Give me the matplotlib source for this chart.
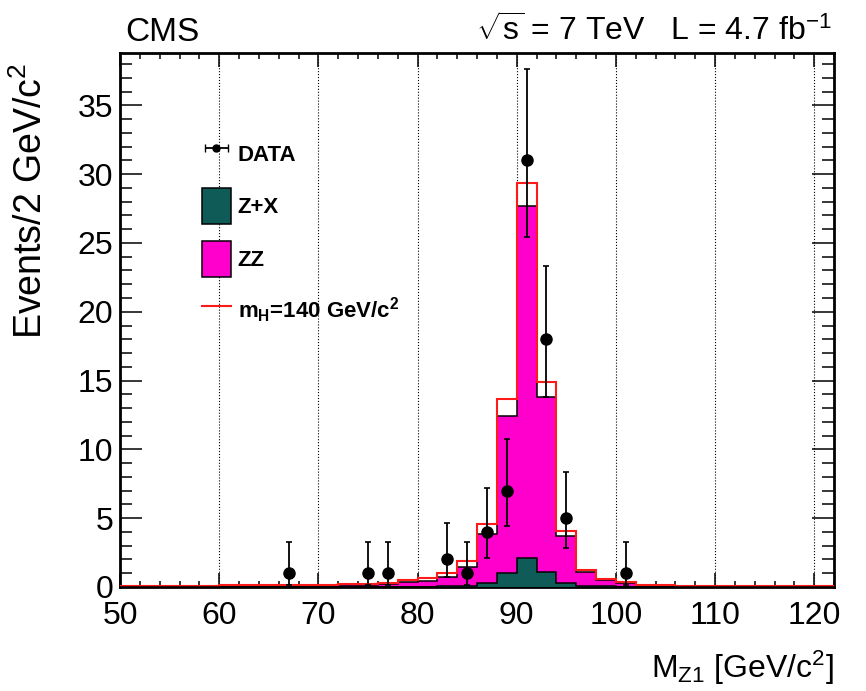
"""CMS H->ZZ->4l: M_Z1 distribution, sqrt(s)=7 TeV, L=4.7 fb^-1."""

import numpy as np
import matplotlib
matplotlib.use("Agg")
import matplotlib.pyplot as plt
import matplotlib.ticker as ticker
from matplotlib.patches import Rectangle
from matplotlib.lines import Line2D

plt.rcParams["font.family"] = ["Liberation Sans", "DejaVu Sans"]
plt.rcParams["mathtext.fontset"] = "custom"
plt.rcParams["mathtext.rm"] = "Liberation Sans"
plt.rcParams["mathtext.bf"] = "Liberation Sans:bold"
plt.rcParams["mathtext.default"] = "regular"

# 2 GeV bins from 50 to 122
bin_edges = np.arange(50, 123, 2)

# Z+X background per bin
zx = [0.01, 0.01, 0.01, 0.01, 0.01, 0.01, 0.01, 0.01, 0.01, 0.01,
      0.01, 0.01, 0.02, 0.02, 0.02, 0.03, 0.05, 0.08, 0.27, 1.00,
      2.13, 1.07, 0.27, 0.08, 0.04, 0.02, 0.01, 0.01, 0.01, 0.01,
      0.01, 0.01, 0.01, 0.01, 0.01, 0.01]

# ZZ background per bin (stacked on Z+X)
zz = [0.04, 0.04, 0.05, 0.05, 0.06, 0.07, 0.07, 0.08, 0.09, 0.10,
      0.12, 0.14, 0.16, 0.22, 0.33, 0.38, 0.65, 1.40, 3.58, 11.39,
      25.53, 12.73, 3.44, 1.03, 0.46, 0.25, 0.14, 0.09, 0.07, 0.06,
      0.05, 0.04, 0.04, 0.03, 0.03, 0.03]

# Higgs signal, m_H = 140 GeV (stacked on top)
h140 = [0.02, 0.02, 0.02, 0.02, 0.03, 0.03, 0.03, 0.03, 0.04, 0.04,
        0.05, 0.05, 0.06, 0.08, 0.15, 0.27, 0.34, 0.41, 0.73, 1.26,
        1.70, 1.06, 0.38, 0.14, 0.06, 0.07, 0.03, 0.02, 0.02, 0.01,
        0.01, 0.01, 0.01, 0.01, 0.01, 0.01]

# observed events (non-empty bins only)
data_x = [67, 75, 77, 83, 85, 87, 89, 91, 93, 95, 101]
data_n = [1, 1, 1, 2, 1, 4, 7, 31, 18, 5, 1]
data_err_lo = [0.83, 0.83, 0.83, 1.29, 0.83, 1.91, 2.58, 5.55, 4.22, 2.16, 0.83]
data_err_hi = [2.30, 2.30, 2.30, 2.64, 2.30, 3.16, 3.77, 6.63, 5.29, 3.38, 2.30]

COLORS = {
    "zx": "#0f5b57",
    "zz": "#ff00cc",
    "sig": "#ff1a1a",
}

fig = plt.figure(figsize=(8.66, 6.91), dpi=100)
ax = fig.add_axes([120 / 866, 1 - 587 / 691, 714 / 866, 534 / 691])

bkg_total = np.array(zx) + np.array(zz)
sig_total = bkg_total + np.array(h140)

ax.stairs(bkg_total, bin_edges, fill=True, facecolor=COLORS["zz"],
          edgecolor="black", linewidth=1.1, zorder=2)
ax.stairs(sig_total, bin_edges, color=COLORS["sig"], linewidth=1.5, zorder=3)
ax.stairs(zx, bin_edges, fill=True, facecolor=COLORS["zx"],
          edgecolor="black", linewidth=1.1, zorder=4)

ax.errorbar(data_x, data_n, yerr=[data_err_lo, data_err_hi], fmt="o",
            color="black", ms=8, elinewidth=1.3, capsize=2, capthick=1.2,
            zorder=5)

ax.set_xlim(50, 122)
ax.set_ylim(0, 38.8)

ax.xaxis.set_major_locator(ticker.MultipleLocator(10))
ax.xaxis.set_minor_locator(ticker.MultipleLocator(2))
ax.yaxis.set_major_locator(ticker.MultipleLocator(5))
ax.yaxis.set_minor_locator(ticker.MultipleLocator(1))

ax.tick_params(axis="both", which="both", direction="in", top=True, right=True,
               width=1.1, labelsize=23)
ax.tick_params(axis="x", which="major", length=10, pad=10)
ax.tick_params(axis="x", which="minor", length=4.5)
ax.tick_params(axis="y", which="major", length=16, pad=5)
ax.tick_params(axis="y", which="minor", length=8.5)
for sp in ax.spines.values():
    sp.set_linewidth(2)

ax.grid(axis="x", which="major", linestyle=":", color="black", linewidth=0.8)
ax.set_axisbelow(True)

ax.set_ylabel("Events/2 GeV/c$^2$", fontsize=27, loc="top")
ax.yaxis.set_label_coords(-0.098, 0.981)
ax.set_xlabel("M$_{Z1}$ [GeV/c$^2$]", fontsize=23, loc="right")
ax.xaxis.set_label_coords(1.0, -0.115)

fig.text(125 / 866, 1 - 41 / 691, "CMS", fontsize=24, va="baseline")
fig.text(832 / 866, 1 - 41 / 691, r"$\sqrt{s}$ = 7 TeV   L = 4.7 fb$^{-1}$",
         fontsize=23, va="baseline", ha="right")

# legend
data_proxy = ax.errorbar([np.nan], [np.nan], xerr=[1], fmt="o", color="black",
                         ms=5, elinewidth=1.3, capsize=3)
handles = [
    data_proxy,
    Rectangle((0, 0), 1, 1, facecolor=COLORS["zx"], edgecolor="black", linewidth=1.1),
    Rectangle((0, 0), 1, 1, facecolor=COLORS["zz"], edgecolor="black", linewidth=1.1),
    Line2D([], [], color=COLORS["sig"], linewidth=1.5),
]
labels = ["DATA", "Z+X", "ZZ", r"m$_\mathbf{H}$=140 GeV/c$^\mathbf{2}$"]
leg = ax.legend(handles, labels, loc="upper left",
                bbox_to_anchor=((202 - 120) / 714, (587 - 136) / 534),
                frameon=False, borderpad=0, borderaxespad=0,
                handlelength=1.3, handleheight=2.1, handletextpad=0.3,
                labelspacing=0.75, prop={"weight": "bold", "size": 16})

fig.savefig("out.png", dpi=100)
